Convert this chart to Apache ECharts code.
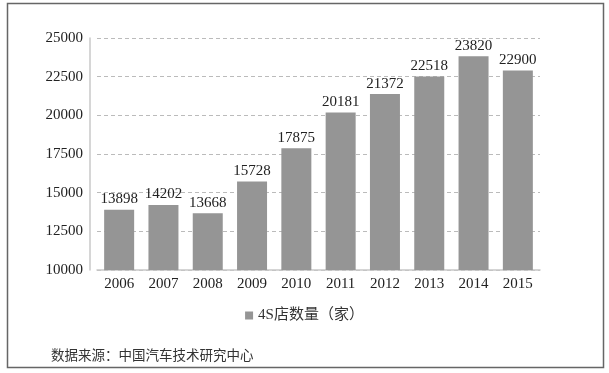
<!DOCTYPE html>
<html><head><meta charset="utf-8">
<script src="https://cdn.jsdelivr.net/npm/echarts@6/dist/echarts.min.js"></script>
<style>html,body{margin:0;padding:0;background:#fff}#c{width:609px;height:373px}</style>
</head><body><div id="c"></div>
<script>
var categories = ['2006','2007','2008','2009','2010','2011','2012','2013','2014','2015'];
var storeCounts = [13898,14202,13668,15728,17875,20181,21372,22518,23820,22900];
var yTicks = {min:10000, max:25000, interval:2500};
var seriesName = '4S店数量（家）';
var sourceText = '数据来源：中国汽车技术研究中心';

var chart = echarts.init(document.getElementById('c'), null, {renderer:'canvas'});
var serif = '"Liberation Serif","DejaVu Serif",serif';
var mixed = '"Liberation Serif","Noto Sans CJK SC",serif';
chart.setOption({
  animation:false,
  backgroundColor:'#fff',
  graphic:[{type:'rect', shape:{x:7.5,y:3.5,width:596,height:364}, style:{fill:'none', stroke:'#666', lineWidth:1.5}, silent:true}],
  title:{text:sourceText, left:46, top:345, textStyle:{fontFamily:mixed, fontSize:13.5, fontWeight:'normal', color:'#333'}},
  legend:{data:[seriesName], left:'center', top:303, icon:'rect', itemWidth:8, itemHeight:8, itemGap:4,
    textStyle:{fontFamily:mixed, fontSize:15, color:'#333'}},
  grid:{left:97, right:69, top:38, bottom:103, containLabel:false},
  xAxis:{type:'category', data:categories,
    axisLine:{lineStyle:{color:'#c8c8c8', width:1.5}}, axisTick:{show:false},
    axisLabel:{fontFamily:serif, fontSize:15, color:'#222', margin:7}},
  yAxis:{type:'value', min:yTicks.min, max:yTicks.max, interval:yTicks.interval, offset:7,
    axisLine:{show:true, lineStyle:{color:'#c8c8c8', width:1.5}}, axisTick:{show:false},
    axisLabel:{fontFamily:serif, fontSize:15, color:'#222', margin:7, formatter:function(v){return String(v);}},
    splitLine:{lineStyle:{color:'#bbb', type:[4,3]}}},
  series:[{name:seriesName, type:'bar', data:storeCounts, barWidth:30,
    itemStyle:{color:'#959595'},
    label:{show:true, position:'top', distance:3, fontFamily:serif, fontSize:15, color:'#222'}}]
});
</script></body></html>
